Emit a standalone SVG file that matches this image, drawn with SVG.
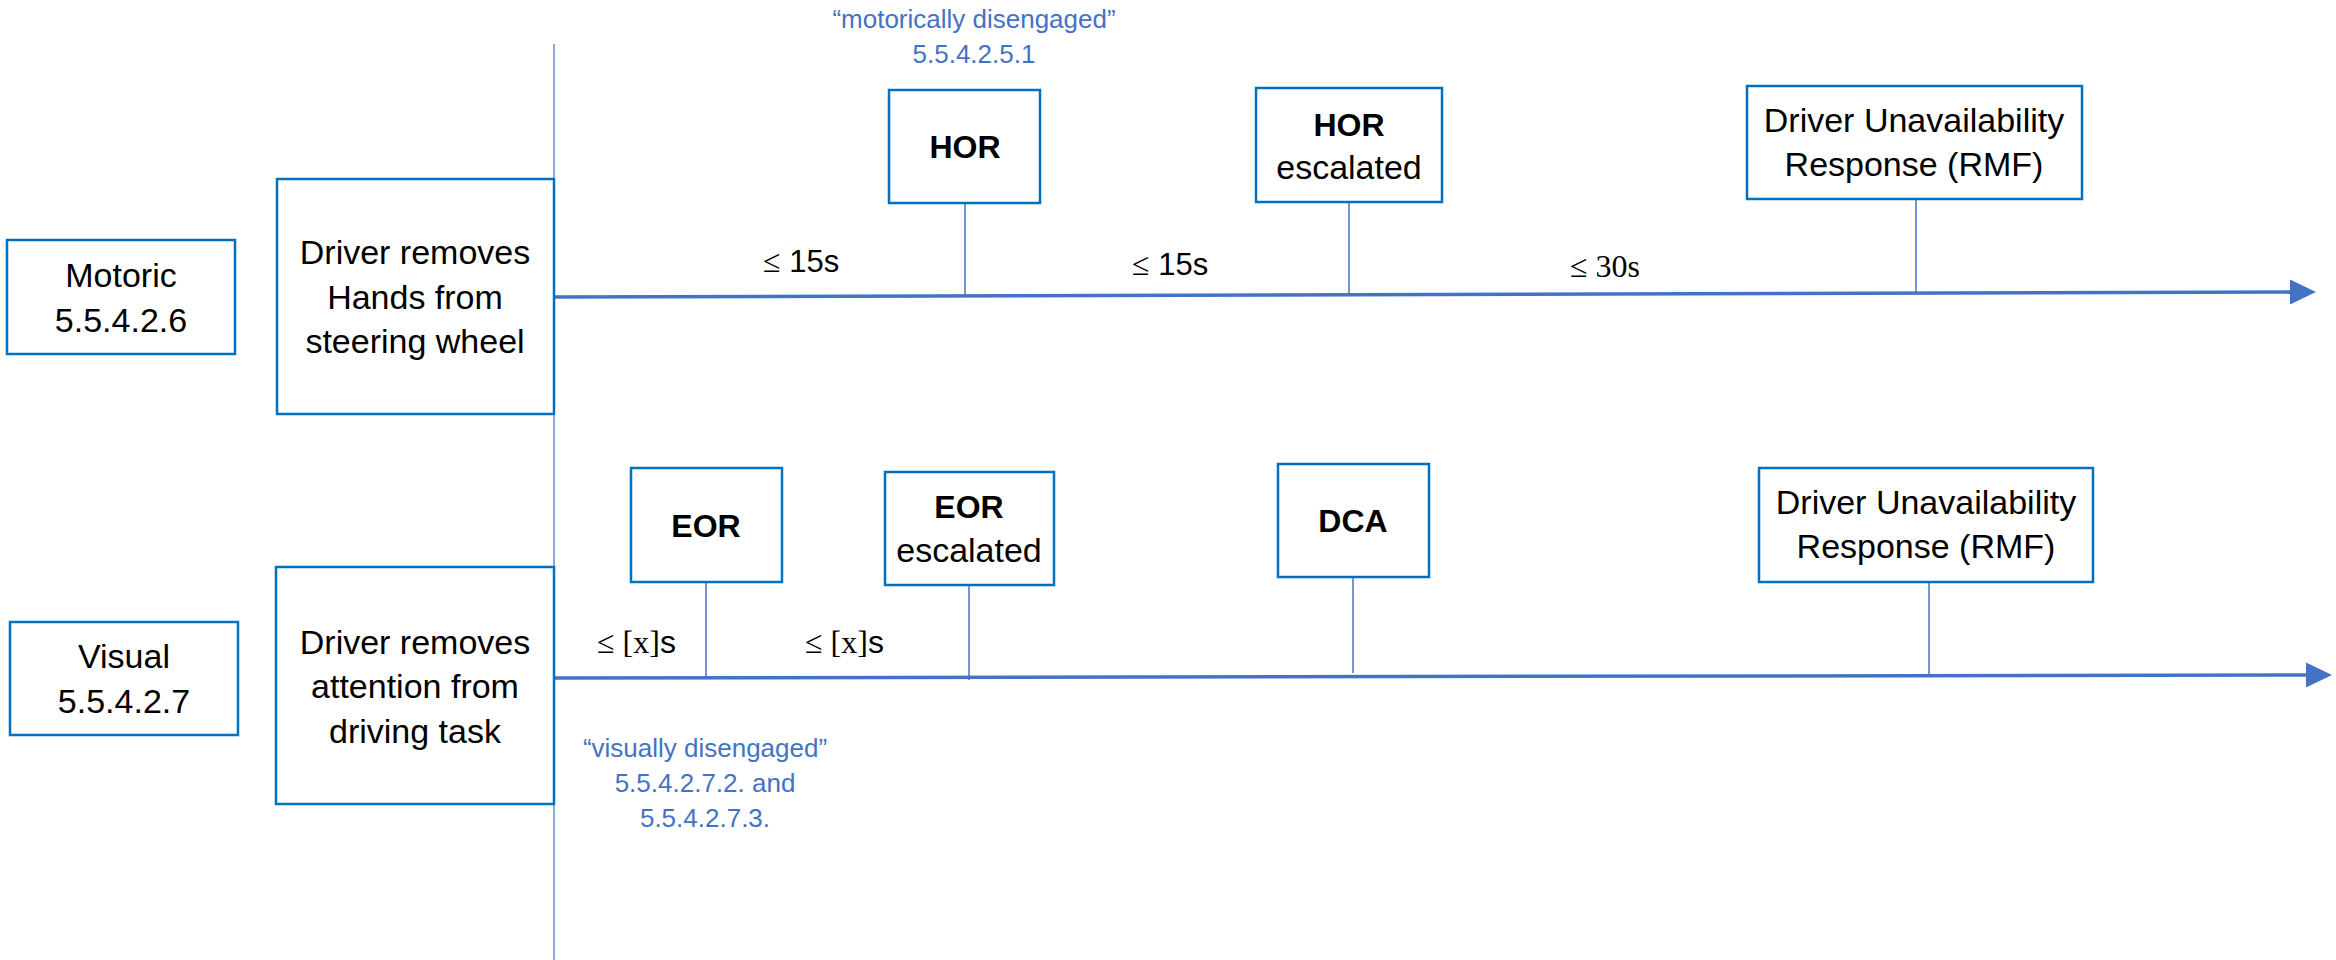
<svg xmlns="http://www.w3.org/2000/svg" width="2336" height="960" viewBox="0 0 2336 960">
<defs>
<style>
.box{fill:#fff;stroke:#0070C0;stroke-width:2.5}
.t{font-family:"Liberation Sans",Arial,sans-serif;font-size:34px;fill:#000;text-anchor:middle}
.b{font-weight:bold;font-size:32px}
.note{font-family:"Liberation Sans",Arial,sans-serif;font-size:26px;fill:#4472C4;text-anchor:middle}
.lbl{font-family:"Liberation Sans",Arial,sans-serif;font-size:31px;fill:#000}
.ser{font-family:"Liberation Serif","Times New Roman",serif;font-size:32px}
.tick{stroke:#4472C4;stroke-width:1.5;fill:none}
.axis{stroke:#4472C4;stroke-width:3.5;fill:none}
.vline{stroke:#8EA9DB;stroke-width:2;fill:none}
</style>
<marker id="arrow" markerUnits="userSpaceOnUse" viewBox="0 0 26 25" markerWidth="26" markerHeight="25" refX="0" refY="12.5" orient="auto">
<path d="M0,0 L26,12.5 L0,25 Z" fill="#4472C4"/>
</marker>
</defs>
<rect width="2336" height="960" fill="#fff"/>

<g id="connectors">
<line class="vline" x1="554" y1="44" x2="554" y2="960"/>
<line class="axis" x1="552" y1="297" x2="2290" y2="292" marker-end="url(#arrow)"/>
<line class="axis" x1="551" y1="678" x2="2306" y2="675" marker-end="url(#arrow)"/>
<line class="tick" x1="965" y1="203" x2="965" y2="296"/>
<line class="tick" x1="1349" y1="202" x2="1349" y2="294"/>
<line class="tick" x1="1916" y1="199" x2="1916" y2="292"/>
<line class="tick" x1="706" y1="582" x2="706" y2="677"/>
<line class="tick" x1="969" y1="585" x2="969" y2="680"/>
<line class="tick" x1="1353" y1="577" x2="1353" y2="673"/>
<line class="tick" x1="1929" y1="582" x2="1929" y2="675"/>
</g>

<g id="motoric">
<rect class="box" x="7" y="240" width="228" height="114"/>
<text class="t" x="121" y="287">Motoric</text>
<text class="t" x="121" y="332">5.5.4.2.6</text>
</g>

<g id="hands-off">
<rect class="box" x="277" y="179" width="277" height="235"/>
<text class="t" x="415" y="264">Driver removes</text>
<text class="t" x="415" y="309">Hands from</text>
<text class="t" x="415" y="353">steering wheel</text>
</g>

<g id="motorically-note">
<text class="note" x="974" y="28">“motorically disengaged”</text>
<text class="note" x="974" y="63">5.5.4.2.5.1</text>
</g>

<g id="hor">
<rect class="box" x="889" y="90" width="151" height="113"/>
<text class="t b" x="965" y="158">HOR</text>
</g>

<g id="hor-escalated">
<rect class="box" x="1256" y="88" width="186" height="114"/>
<text class="t b" x="1349" y="136">HOR</text>
<text class="t" x="1349" y="179">escalated</text>
</g>

<g id="dur-motoric">
<rect class="box" x="1747" y="86" width="335" height="113"/>
<text class="t" x="1914" y="132">Driver Unavailability</text>
<text class="t" x="1914" y="176">Response (RMF)</text>
</g>

<g id="motoric-labels">
<text class="lbl" x="763" y="272"><tspan class="ser">≤</tspan> 15s</text>
<text class="lbl" x="1132" y="275"><tspan class="ser">≤</tspan> 15s</text>
<text class="lbl ser" x="1570" y="277">≤ 30s</text>
</g>

<g id="visual">
<rect class="box" x="10" y="622" width="228" height="113"/>
<text class="t" x="124" y="668">Visual</text>
<text class="t" x="124" y="713">5.5.4.2.7</text>
</g>

<g id="attention-off">
<rect class="box" x="276" y="567" width="278" height="237"/>
<text class="t" x="415" y="654">Driver removes</text>
<text class="t" x="415" y="698">attention from</text>
<text class="t" x="415" y="743">driving task</text>
</g>

<g id="eor">
<rect class="box" x="631" y="468" width="151" height="114"/>
<text class="t b" x="706" y="537">EOR</text>
</g>

<g id="eor-escalated">
<rect class="box" x="885" y="472" width="169" height="113"/>
<text class="t b" x="969" y="518">EOR</text>
<text class="t" x="969" y="562">escalated</text>
</g>

<g id="dca">
<rect class="box" x="1278" y="464" width="151" height="113"/>
<text class="t b" x="1353" y="532">DCA</text>
</g>

<g id="dur-visual">
<rect class="box" x="1759" y="468" width="334" height="114"/>
<text class="t" x="1926" y="514">Driver Unavailability</text>
<text class="t" x="1926" y="558">Response (RMF)</text>
</g>

<g id="visual-labels">
<text class="lbl" x="597" y="653"><tspan class="ser">≤ [x]</tspan><tspan font-size="32">s</tspan></text>
<text class="lbl" x="805" y="653"><tspan class="ser">≤ [x]</tspan><tspan font-size="32">s</tspan></text>
</g>

<g id="visually-note">
<text class="note" x="705" y="757">“visually disengaged”</text>
<text class="note" x="705" y="792">5.5.4.2.7.2. and</text>
<text class="note" x="705" y="827">5.5.4.2.7.3.</text>
</g>
</svg>
